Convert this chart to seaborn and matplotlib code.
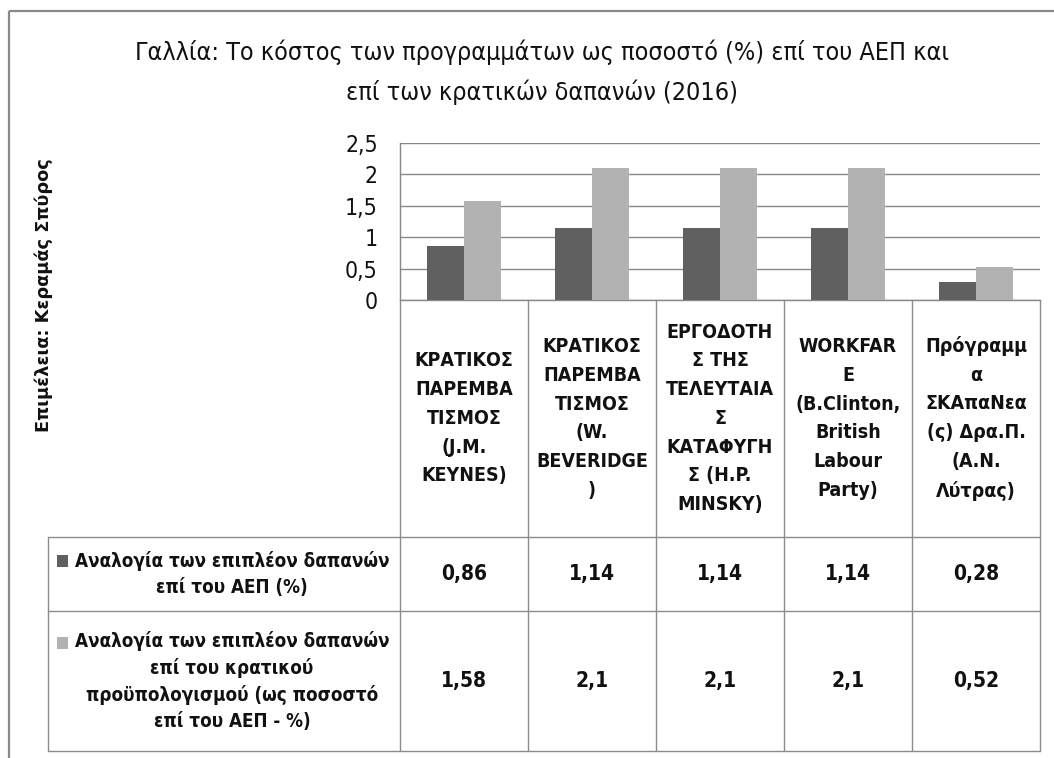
import matplotlib
matplotlib.use("Agg")
import matplotlib.pyplot as plt
import seaborn as sns
import pandas as pd
from matplotlib import font_manager, transforms
from matplotlib.patches import Rectangle
from matplotlib.lines import Line2D

# ---------------- data ----------------
title = "Γαλλία: Το κόστος των προγραμμάτων ως ποσοστό (%) επί του ΑΕΠ και\nεπί των κρατικών δαπανών (2016)"
credit = "Επιμέλεια: Κεραμάς Σπύρος"
categories = [
    "ΚΡΑΤΙΚΟΣ\nΠΑΡΕΜΒΑ\nΤΙΣΜΟΣ\n(J.M.\nKEYNES)",
    "ΚΡΑΤΙΚΟΣ\nΠΑΡΕΜΒΑ\nΤΙΣΜΟΣ\n(W.\nBEVERIDGE\n)",
    "ΕΡΓΟΔΟΤΗ\nΣ ΤΗΣ\nΤΕΛΕΥΤΑΙΑ\nΣ\nΚΑΤΑΦΥΓΗ\nΣ (H.P.\nMINSKY)",
    "WORKFAR\nE\n(B.Clinton,\nBritish\nLabour\nParty)",
    "Πρόγραμμ\nα\nΣΚΑπαΝεα\n(ς) Δρα.Π.\n(Α.Ν.\nΛύτρας)",
]
series_names = [
    "Αναλογία των επιπλέον δαπανών\nεπί του ΑΕΠ (%)",
    "Αναλογία των επιπλέον δαπανών\nεπί του κρατικού\nπροϋπολογισμού (ως ποσοστό\nεπί του ΑΕΠ - %)",
]
gdp_share = [0.86, 1.14, 1.14, 1.14, 0.28]
budget_share = [1.58, 2.1, 2.1, 2.1, 0.52]
yticks = [0, 0.5, 1, 1.5, 2, 2.5]
colors = ["#606060", "#b2b2b2"]

df = pd.DataFrame({
    "category": categories * 2,
    "series": [series_names[0]] * len(categories) + [series_names[1]] * len(categories),
    "value": gdp_share + budget_share,
})

def fmt(v):
    return f"{v:g}".replace(".", ",")

# ---------------- fonts ----------------
sns.set_style("white")
def has_font(name):
    try:
        font_manager.findfont(font_manager.FontProperties(family=name), fallback_to_default=False)
        return True
    except Exception:
        return False

if has_font("Liberation Sans Narrow"):
    narrow = dict(family="Liberation Sans Narrow")
else:
    narrow = dict(family="DejaVu Sans", stretch="condensed")
plt.rcParams["font.family"] = ["DejaVu Sans"]

W, H = 1054, 758
fig = plt.figure(figsize=(W / 100, H / 100), dpi=100)
fig.patch.set_facecolor("white")

# overlay in pixel coordinates (y downward)
tab = fig.add_axes([0, 0, 1, 1], zorder=0)
tab.set_xlim(0, W)
tab.set_ylim(H, 0)
tab.axis("off")

# plot area
ax_left, ax_right, ax_top, ax_bottom = 400, 1040, 143, 300
ax = fig.add_axes([ax_left / W, 1 - ax_bottom / H, (ax_right - ax_left) / W, (ax_bottom - ax_top) / H], zorder=2)
ax.patch.set_alpha(0)

sns.barplot(data=df, x="category", y="value", hue="series", order=categories,
            hue_order=series_names, palette=colors, width=0.58, linewidth=0,
            saturation=1, legend=False, ax=ax, zorder=3)

gridc = "#888888"
ax.set_ylim(0, 2.5)
ax.set_xlim(-0.5, len(categories) - 0.5)
ax.set_yticks(yticks)
ax.set_yticklabels([fmt(v) for v in yticks], fontsize=16.5, **narrow)
ax.set_xticks([])
ax.set_xlabel("")
ax.set_ylabel("")
ax.yaxis.grid(True, color=gridc, linewidth=1.0)
ax.set_axisbelow(True)
for s in ["top", "right"]:
    ax.spines[s].set_visible(False)
for s in ["left", "bottom"]:
    ax.spines[s].set_color(gridc)
    ax.spines[s].set_linewidth(1.0)
ax.tick_params(axis="y", length=6, color=gridc, pad=10, labelcolor="#111111")

# ---------------- data table ----------------
tcol = "#8c8c8c"
blend = transforms.blended_transform_factory(ax.transData, tab.transData)
head_top, row1_top, row2_top, tab_bottom, tab_left = 300, 537, 611, 751, 48
n = len(categories)
for i in range(n + 1):
    tab.add_line(Line2D([i - 0.5, i - 0.5], [head_top, tab_bottom], transform=blend,
                        color=tcol, lw=1.0))
for yy in [row1_top, row2_top, tab_bottom]:
    tab.plot([tab_left, ax_left], [yy, yy], color=tcol, lw=1.0)
    tab.add_line(Line2D([-0.5, n - 0.5], [yy, yy], transform=blend, color=tcol, lw=1.0))
tab.plot([tab_left, tab_left], [row1_top, tab_bottom], color=tcol, lw=1.0)

for i, cat in enumerate(categories):
    tab.text(i, (head_top + row1_top) / 2, cat, transform=blend, ha="center", va="center",
             fontsize=14, fontweight="bold", linespacing=1.65, color="#111111", **narrow)

rows = [(gdp_share, row1_top, row2_top), (budget_share, row2_top, tab_bottom)]
line_h = 25.5
for k, (vals, top, bot) in enumerate(rows):
    yc = (top + bot) / 2
    for i, v in enumerate(vals):
        tab.text(i, yc, fmt(v), transform=blend, ha="center", va="center",
                 fontsize=15, fontweight="bold", color="#111111", **narrow)
    nlines = series_names[k].count("\n") + 1
    tab.text(232, yc, series_names[k], ha="center", va="center", fontsize=13.5,
             fontweight="bold", linespacing=1.45, color="#111111", **narrow)
    y_first = yc - (nlines - 1) * line_h / 2
    tab.add_patch(Rectangle((57, y_first - 6), 11, 12, facecolor=colors[k], edgecolor="none"))

# ---------------- title, credit, frame ----------------
tab.text(542, 72, title, ha="center", va="center", fontsize=18, linespacing=1.7,
         color="#111111", **narrow)
tab.text(44, 295, credit, rotation=90, ha="center", va="center", fontsize=12.8,
         fontweight="bold", family="DejaVu Sans", color="#111111")
tab.add_patch(Rectangle((9, 11), W + 20, H + 20, facecolor="none", edgecolor="#898989", lw=1.6))

fig.savefig("out.png", dpi=100, facecolor="white")
